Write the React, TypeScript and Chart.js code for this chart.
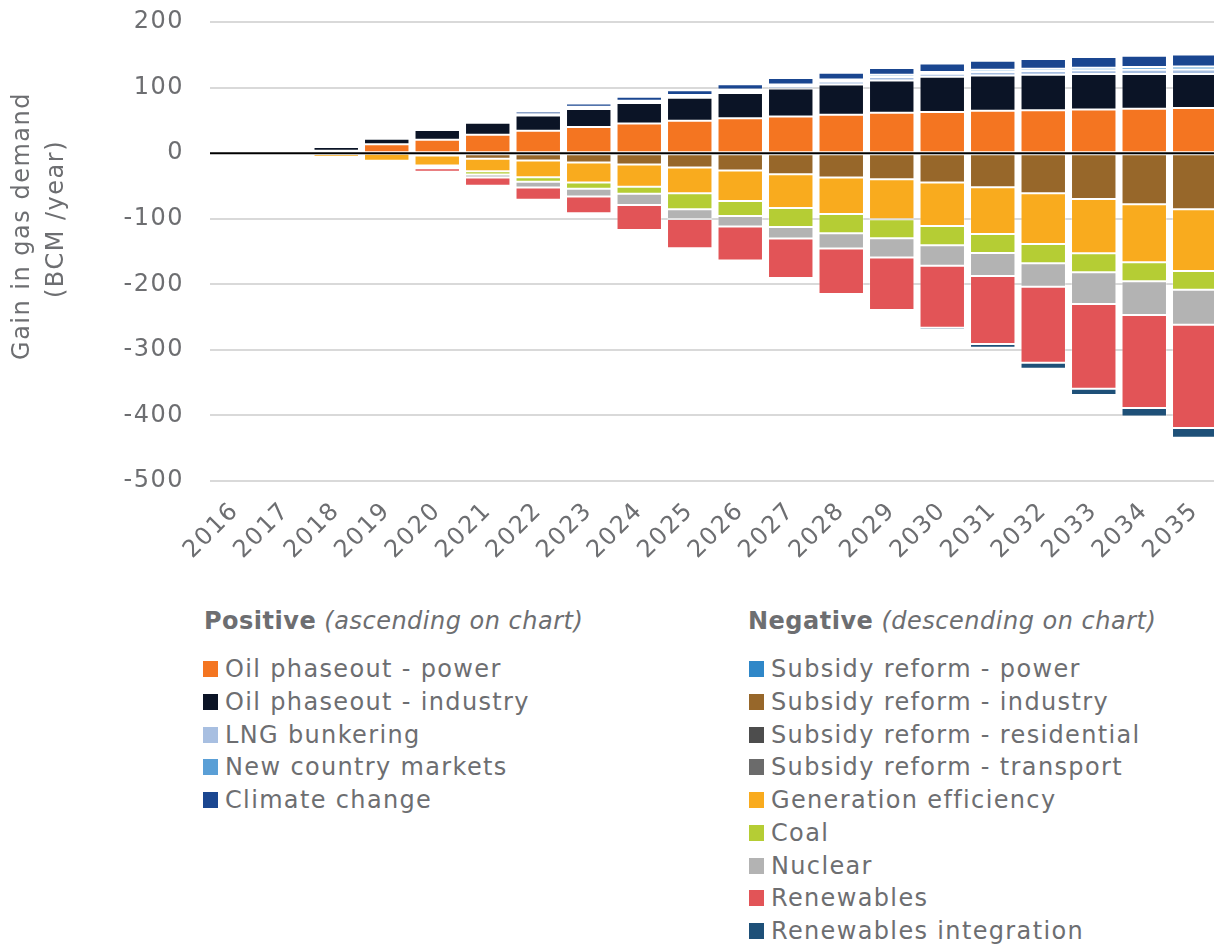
import React, { useEffect, useRef } from "react";
import { Chart, registerables } from "chart.js";

Chart.register(...registerables);

// ---------- data ----------
const years = [
  "2016", "2017", "2018", "2019", "2020", "2021", "2022", "2023", "2024", "2025",
  "2026", "2027", "2028", "2029", "2030", "2031", "2032", "2033", "2034", "2035",
];

// Positive (ascending on chart)
const oilPhaseoutPower = [0, 0, 3.6, 13.7, 20.4, 28, 34.1, 39.7, 45.2, 49.4, 53.4, 55.9, 58.5, 61.6, 62.6, 64.6, 65.6, 66.7, 67.7, 68.7];
const oilPhaseoutIndustry = [0, 0, 5.6, 8.1, 14.8, 18.3, 23.4, 27.5, 31.1, 35.1, 38.2, 42.8, 46.3, 49.3, 53.9, 54.0, 54.0, 53.9, 52.9, 51.9];
const lngBunkering = [0, 0, 0.3, 0.3, 0.6, 0.9, 1.2, 2.0, 2.2, 2.4, 3.3, 3.6, 4.5, 5.2, 4.5, 5.2, 5.5, 5.8, 6.4, 7.0];
const newCountryMarkets = [0, 0, 0.2, 0.2, 0.4, 0.6, 0.8, 1.5, 1.4, 1.6, 2.2, 2.4, 3.1, 3.5, 2.9, 3.4, 3.7, 3.9, 4.3, 4.7];
const climateChange = [0, 0, 0.5, 1.5, 2.5, 3, 4, 5, 6.1, 7.6, 8, 10, 10.2, 10.2, 12.7, 13.8, 14.7, 16.3, 17.3, 18.3];

// Negative (descending on chart)
const subsidyPower = [0, 0, 0, 0, 0, 0, 0, 0, 0, 0, 0, 0, 0, 0, 0, 0, 0, 0, 0, 0];
const subsidyIndustry = [0, 0, 0, -1, -3.6, -8.7, -11.2, -14.2, -17.3, -21.9, -26.5, -32.1, -37.2, -39.7, -44.8, -51.9, -61.1, -69.8, -77.9, -85.5];
const subsidyResidential = [0, 0, 0, 0, 0, 0, 0, 0, 0, 0, 0, 0, 0, 0, 0, 0, 0, 0, 0, 0];
const subsidyTransport = [0, 0, 0, 0, 0, 0, 0, 0, 0, 0, 0, 0, 0, 0, 0, 0, 0, 0, 0, 0];
const generationEfficiency = [0, 0, -6, -10.5, -15.3, -18.8, -25.4, -30.5, -34.1, -39.2, -46.3, -51.4, -55.5, -61.1, -66.2, -71.3, -77.4, -82.9, -88.6, -94.2];
const coal = [0, 0, 0, 0, -3, -5.1, -7.1, -9.7, -10.7, -24.4, -22.9, -29, -29.5, -29, -29.5, -29, -29.5, -29, -29, -28.5];
const nuclear = [0, 0, 0, 0, -1, -4.6, -8.7, -11.7, -16.8, -14.8, -16.3, -17.8, -23.4, -29.5, -31.1, -35.1, -35.6, -48.3, -51.4, -53.5];
const renewables = [0, 0, 0, -2.5, -5.6, -12.7, -18.8, -25.4, -38.2, -44.7, -51.9, -60, -69.2, -79.9, -94.6, -103.8, -116, -129.3, -141.9, -157.3];
const renewablesIntegration = [0, 0, 0, 0, -0.8, -1.5, -1.5, -1.5, -1, -1, -2, -1.6, -3, -3.1, -3.6, -5.6, -9.2, -9.7, -12.7, -15.1];

const yTitleLines = ["Gain in gas demand", "(BCM /year)"];
const Y_MIN = -500;
const Y_MAX = 200;
const Y_STEP = 100;

const positiveSeries = [
  { label: "Oil phaseout - power", data: oilPhaseoutPower, color: "#f47521" },
  { label: "Oil phaseout - industry", data: oilPhaseoutIndustry, color: "#0b1426" },
  { label: "LNG bunkering", data: lngBunkering, color: "#a8bfe1" },
  { label: "New country markets", data: newCountryMarkets, color: "#5a9fd6" },
  { label: "Climate change", data: climateChange, color: "#1a4690" },
];

const negativeSeries = [
  { label: "Subsidy reform - power", data: subsidyPower, color: "#2f87c8" },
  { label: "Subsidy reform - industry", data: subsidyIndustry, color: "#97672a" },
  { label: "Subsidy reform - residential", data: subsidyResidential, color: "#4d4d4d" },
  { label: "Subsidy reform - transport", data: subsidyTransport, color: "#6b6b6b" },
  { label: "Generation efficiency", data: generationEfficiency, color: "#f9ab1e" },
  { label: "Coal", data: coal, color: "#b5cd34" },
  { label: "Nuclear", data: nuclear, color: "#b3b3b3" },
  { label: "Renewables", data: renewables, color: "#e25457" },
  { label: "Renewables integration", data: renewablesIntegration, color: "#1e5078" },
];

const FONT_FAMILY = '"DejaVu Sans", "Liberation Sans", sans-serif';
const TEXT_COLOR = "#6d6e71";

export default function App() {
  const canvasRef = useRef<HTMLCanvasElement>(null);

  useEffect(() => {
    const canvas = canvasRef.current;
    if (!canvas) return;
    const all = [...positiveSeries, ...negativeSeries];

    const spacingPlugin = {
      id: "spacing",
      beforeDraw(chart: any) {
        chart.ctx.letterSpacing = "1.5px";
      },
    };

    const extrasPlugin = {
      id: "extras",
      afterDatasetsDraw(chart: any) {
        const { ctx, chartArea, scales } = chart;
        const y0 = scales.y.getPixelForValue(0);
        ctx.save();
        ctx.strokeStyle = "#000000";
        ctx.lineWidth = 2;
        ctx.beginPath();
        ctx.moveTo(chartArea.left, y0);
        ctx.lineTo(chartArea.right, y0);
        ctx.stroke();
        ctx.restore();
      },
      afterDraw(chart: any) {
        const { ctx } = chart;
        ctx.save();
        ctx.letterSpacing = "1.5px";
        ctx.fillStyle = TEXT_COLOR;
        ctx.font = `24px ${FONT_FAMILY}`;
        ctx.textAlign = "center";
        ctx.textBaseline = "middle";
        const pos = [
          [23, 226],
          [57, 219],
        ];
        yTitleLines.forEach((line, i) => {
          ctx.save();
          ctx.translate(pos[i][0], pos[i][1]);
          ctx.rotate(-Math.PI / 2);
          ctx.fillText(line, 0, 0);
          ctx.restore();
        });
        ctx.restore();
      },
    };

    const chart = new Chart(canvas, {
      type: "bar",
      data: {
        labels: years,
        datasets: all.map((s) => ({
          label: s.label,
          data: s.data,
          backgroundColor: s.color,
          borderColor: "rgba(255,255,255,0.28)",
          borderWidth: (c: any) => (c.raw === 0 ? 0 : 1),
          borderSkipped: false,
          stack: "gas",
          barPercentage: 0.9,
          categoryPercentage: 1,
        })),
      },
      options: {
        animation: false,
        responsive: false,
        devicePixelRatio: 1,
        layout: { padding: { top: 22, right: 0, left: 0, bottom: 0 } },
        plugins: {
          legend: { display: false },
          tooltip: { enabled: false },
        },
        scales: {
          x: {
            stacked: true,
            grid: { display: false },
            border: { display: false },
            ticks: {
              minRotation: 45,
              maxRotation: 45,
              color: TEXT_COLOR,
              font: { family: FONT_FAMILY, size: 24 },
              padding: 8,
            },
            afterFit: (s: any) => {
              s.height = 100;
              s.paddingLeft = 0;
              s.paddingRight = 0;
            },
          },
          y: {
            stacked: true,
            min: Y_MIN,
            max: Y_MAX,
            ticks: {
              stepSize: Y_STEP,
              color: TEXT_COLOR,
              font: { family: FONT_FAMILY, size: 24 },
              padding: 26,
            },
            grid: {
              color: (c: any) => (c.tick && c.tick.value === 0 ? "rgba(0,0,0,0)" : "#d9d9d9"),
              lineWidth: 2,
              drawTicks: false,
            },
            border: { display: false },
            afterFit: (s: any) => {
              s.width = 210;
              s.paddingTop = 0;
              s.paddingBottom = 0;
            },
          },
        },
      },
      plugins: [spacingPlugin, extrasPlugin],
    });

    return () => chart.destroy();
  }, []);

  const rowStep = 32.75;
  const firstRow = 669;

  const itemStyle = (left: number, center: number): React.CSSProperties => ({
    position: "absolute",
    left,
    top: center - 15,
    height: 30,
    display: "flex",
    alignItems: "center",
    whiteSpace: "nowrap",
    fontSize: 24,
    letterSpacing: "1.35px",
  });

  const swatch = (color: string): React.CSSProperties => ({
    display: "inline-block",
    width: 15,
    height: 16,
    background: color,
    marginRight: 7,
    flex: "none",
  });

  return (
    <div
      style={{
        position: "absolute",
        left: 0,
        top: 0,
        width: 1214,
        height: 946,
        overflow: "hidden",
        background: "#ffffff",
        fontFamily: FONT_FAMILY,
        color: TEXT_COLOR,
      }}
    >
      <canvas
        ref={canvasRef}
        width={1220}
        height={581}
        style={{ position: "absolute", left: 0, top: 0, width: 1220, height: 581 }}
      />
      <div style={{ position: "absolute", left: 204, top: 606, height: 30, lineHeight: "30px", fontSize: 24, letterSpacing: "0.5px", whiteSpace: "nowrap" }}>
        <b>Positive</b> <i>(ascending on chart)</i>
      </div>
      <div style={{ position: "absolute", left: 748, top: 606, height: 30, lineHeight: "30px", fontSize: 24, letterSpacing: "0.5px", whiteSpace: "nowrap" }}>
        <b>Negative</b> <i>(descending on chart)</i>
      </div>
      {positiveSeries.map((s, i) => (
        <div key={s.label} style={itemStyle(203, firstRow + i * rowStep)}>
          <span style={swatch(s.color)} />
          {s.label}
        </div>
      ))}
      {negativeSeries.map((s, i) => (
        <div key={s.label} style={itemStyle(749, firstRow + i * rowStep)}>
          <span style={swatch(s.color)} />
          {s.label}
        </div>
      ))}
    </div>
  );
}
